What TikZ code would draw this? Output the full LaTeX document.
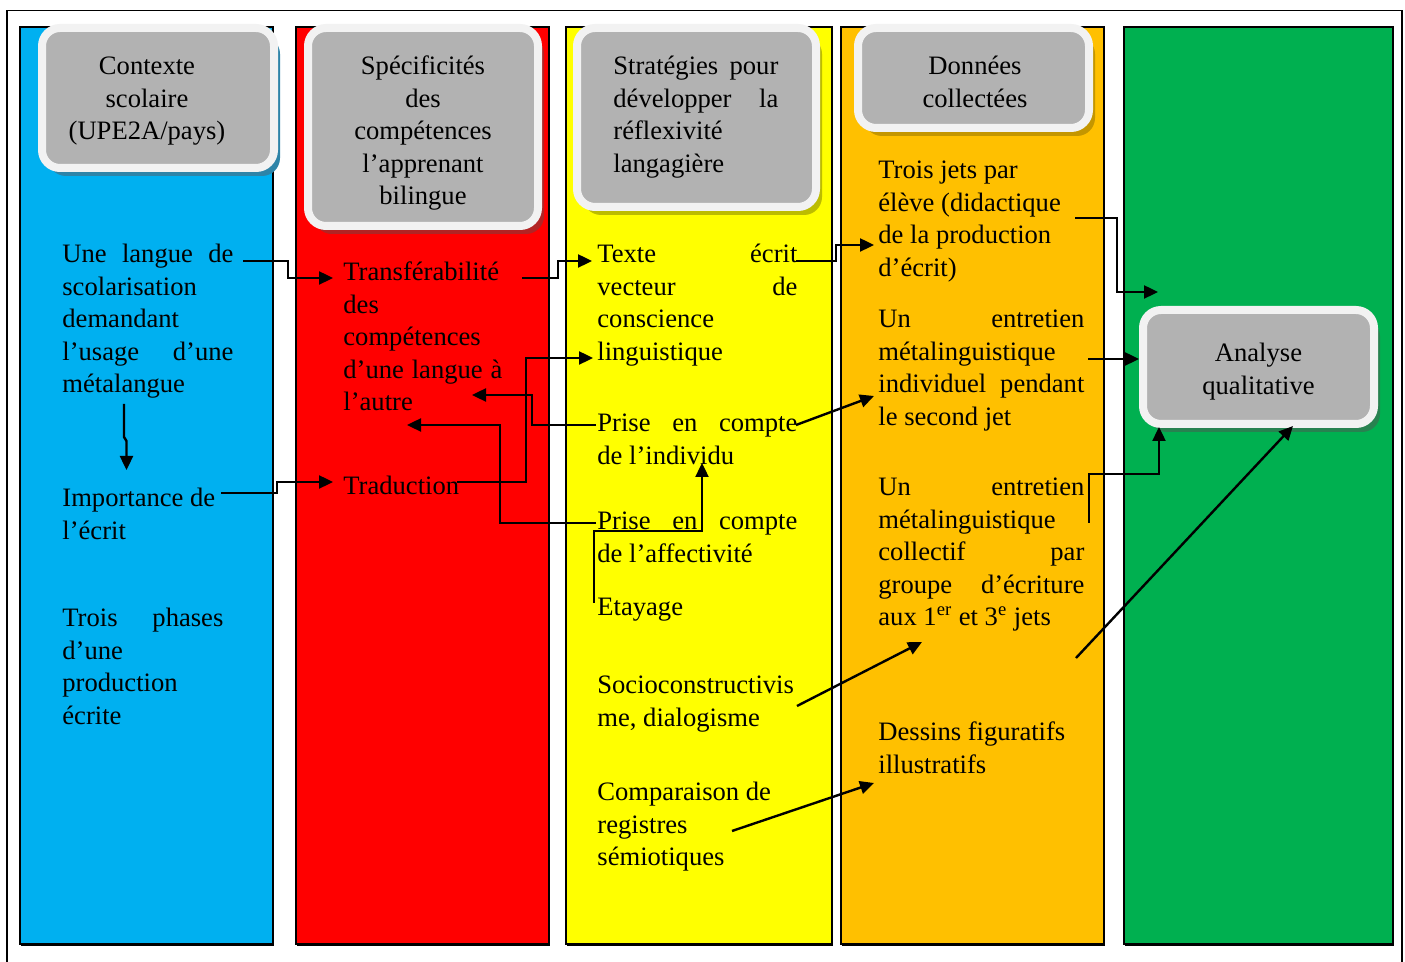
\documentclass[tikz,border=0pt]{standalone}
\usepackage{fontspec}
\setmainfont{Liberation Serif}
\usetikzlibrary{arrows.meta,shadows}

\definecolor{cblue}{HTML}{00B0F0}
\definecolor{cred}{HTML}{FF0000}
\definecolor{cyellow}{HTML}{FFFF00}
\definecolor{corange}{HTML}{FFC000}
\definecolor{cgreen}{HTML}{00B050}
\definecolor{shBlue}{RGB}{46,132,168}
\definecolor{shRed}{RGB}{178,36,36}
\definecolor{shYellow}{RGB}{188,188,0}
\definecolor{shOrange}{RGB}{196,150,0}
\definecolor{shGreen}{RGB}{40,130,80}
\definecolor{hgray}{HTML}{B2B2B2}
\definecolor{hborder}{HTML}{F2F2F2}

% body font: 13.3pt with a 16.2pt line pitch
\newcommand\tf{\fontsize{13.3}{16.2}\selectfont}
% width of the current text block, and a line justified to it
\newlength\blockw
\newcommand\jl[1]{\leavevmode\hbox to\blockw{\spaceskip=0.25em plus 1fil\relax #1}}

\tikzset{
  column/.style={draw=black, line width=0.9pt,
    drop shadow={shadow xshift=0.7pt, shadow yshift=-0.9pt, fill=black, opacity=1}},
  hdr/.style={draw=hborder, line width=4pt, fill=hgray, rounded corners=9pt,
    inner sep=0pt,
    drop shadow={shadow xshift=3pt, shadow yshift=-4pt, fill=#1, opacity=1}},
  txt/.style={anchor=base west, inner sep=0pt, align=flush left, font=\tf, text width=#1,
    execute at begin node={\setlength{\blockw}{#1}}},
  ctxt/.style={anchor=base, inner sep=0pt, align=flush center, font=\tf, text width=#1},
  conn/.style={line width=1.2pt, -{Triangle[length=7pt,width=6.5pt]}},
}

\begin{document}
\begin{tikzpicture}[x=0.5pt, y=-0.5pt]
\fill[white] (0,0) rectangle (1405,962);
\useasboundingbox (0,0) rectangle (1405,962);

% outer frame
\draw[line width=0.8pt] (7,962) -- (7,10.5) -- (1402,10.5) -- (1402,962);

% the five columns
\path[column, fill=cblue]   (20,27)   rectangle (273,944);
\path[column, fill=cred]    (296,27)  rectangle (549,944);
\path[column, fill=cyellow] (566,27)  rectangle (832,944);
\path[column, fill=corange] (841,27)  rectangle (1104,944);
\path[column, fill=cgreen]  (1124,27) rectangle (1393,944);

% column headers
\node[hdr=shBlue,   minimum width=116pt,   minimum height=70pt]   (hctx)   at (158,98) {};
\node[hdr=shRed,    minimum width=115pt,   minimum height=99pt]   (hspec)  at (423,127) {};
\node[hdr=shYellow, minimum width=119.5pt, minimum height=89.5pt] (hstrat) at (696.5,117.5) {};
\node[hdr=shOrange, minimum width=115.5pt, minimum height=50pt]   (hdon)   at (973.5,78) {};
\node[hdr=shGreen,  minimum width=115.5pt, minimum height=57pt]   (ana)    at (1258.5,367) {};

\node[ctxt=110pt] (tctx) at (147,75) {Contexte\\ scolaire\\ (UPE2A/pays)};
\node[ctxt=110pt] (tspec) at (423,75) {Spécificités\\ des\\ compétences\\ l’apprenant\\ bilingue};
\node[txt=82.5pt] (tstrat) at (613,75) {\jl{Stratégies pour}\\ \jl{développer la}\\ réflexivité\\ langagière};
\node[ctxt=110pt] (tdon) at (975,75) {Données\\ collectées};
\node[ctxt=110pt] (tana) at (1258.5,362) {Analyse\\ qualitative};

% blue column
\node[txt=85.5pt] (langue) at (62,263) {\jl{Une langue de}\\ scolarisation\\ demandant\\ \jl{l’usage d’une}\\ métalangue};
\node[txt=100pt] (ecrit) at (62,507) {Importance de\\ l’écrit};
\node[txt=80.5pt] (phases) at (62,627) {\jl{Trois phases}\\ d’une\\ production\\ écrite};

% red column
\node[txt=79.5pt] (transf) at (343,281) {Transférabilité\\ des\\ compétences\\ \jl{d’une langue à}\\ l’autre};
\node[txt=80pt] (trad) at (343,495) {Traduction};

% yellow column
\node[txt=100pt] (texte) at (597,263) {\jl{Texte écrit}\\ \jl{vecteur de}\\ conscience\\ linguistique};
\node[txt=100pt] (indiv) at (597,432) {\jl{Prise en compte}\\ de l’individu};
\node[txt=100pt] (affect) at (597,530) {\jl{Prise en compte}\\ de l’affectivité};
\node[txt=100pt] (etay) at (597,616) {Etayage};
\node[txt=100pt] (socio) at (597,694) {Socioconstructivis\\ me, dialogisme};
\node[txt=100pt] (compar) at (597,801) {Comparaison de\\ registres\\ sémiotiques};

% orange column
\node[txt=103pt] (jets) at (878,179) {Trois jets par\\ élève (didactique\\ de la production\\ d’écrit)};
\node[txt=103pt] (entind) at (878,328) {\jl{Un entretien}\\ métalinguistique\\ \jl{individuel pendant}\\ le second jet};
\node[txt=103pt] (entcol) at (878,496) {\jl{Un entretien}\\ métalinguistique\\ \jl{collectif par}\\ \jl{groupe d’écriture}\\ aux 1\textsuperscript{er} et 3\textsuperscript{e} jets};
\node[txt=103pt] (dessins) at (878,741) {Dessins figuratifs\\ illustratifs};

% connector ends
\coordinate (langue-out) at (243,261);
\coordinate (transf-in)  at (333,278);
\coordinate (meta-out)   at (124,404);
\coordinate (ecrit-in)   at (126.5,470);
\coordinate (ecrit-out)  at (221,493);
\coordinate (trad-in)    at (333,482);
\coordinate (transf-out) at (522,278);
\coordinate (texte-in)   at (592,261);
\coordinate (trad-out)   at (457,482);
\coordinate (ling-in)    at (593,358);
\coordinate (indiv-out)  at (596,425);
\coordinate (autre-in)   at (472,395);
\coordinate (affect-out) at (596,523);
\coordinate (autre-in2)  at (407,425);
\coordinate (etay-out)   at (594,603);
\coordinate (indiv-in)   at (702,463);
\coordinate (texte-out)  at (796,261);
\coordinate (jets-in)    at (874,245);
\coordinate (indiv-out2) at (796,425);
\coordinate (entind-in)  at (874,396);
\coordinate (socio-out)  at (797,706);
\coordinate (entcol-in)  at (922,642);
\coordinate (compar-out) at (732,831);
\coordinate (dessins-in) at (874,783);
\coordinate (jets-out)   at (1075,218);
\coordinate (green-in)   at (1158,292);
\coordinate (entind-out) at (1088,359);
\coordinate (entcol-out) at (1089,523);
\coordinate (ana-in1)    at (1159,427);
\coordinate (dessins-out) at (1076,658);
\coordinate (ana-in2)    at (1293,426);

% connectors
\draw[conn] (langue-out) -- ++(45,0) |- (transf-in);
\draw[conn] (meta-out) -- ++(0,33) -- ++(2.5,4) -- (ecrit-in);
\draw[conn] (ecrit-out) -- ++(56,0) |- (trad-in);
\draw[conn] (transf-out) -- ++(36,0) |- (texte-in);
\draw[conn] (trad-out) -- ++(69,0) |- (ling-in);
\draw[conn] (indiv-out) -- ++(-64,0) |- (autre-in);
\draw[conn] (affect-out) -- ++(-96,0) |- (autre-in2);
\draw[conn] (etay-out) -- ++(0,-72) -| (indiv-in);
\draw[conn] (texte-out) -- ++(40,0) |- (jets-in);
\draw[conn] (indiv-out2) -- (entind-in);
\draw[conn] (socio-out) -- (entcol-in);
\draw[conn] (compar-out) -- (dessins-in);
\draw[conn] (jets-out) -- ++(42,0) |- (green-in);
\draw[conn] (entind-out) -- (entind-out -| ana.west);
\draw[conn] (entcol-out) -- ++(0,-49) -| (ana-in1);
\draw[conn] (dessins-out) -- (ana-in2);
\end{tikzpicture}
\end{document}
